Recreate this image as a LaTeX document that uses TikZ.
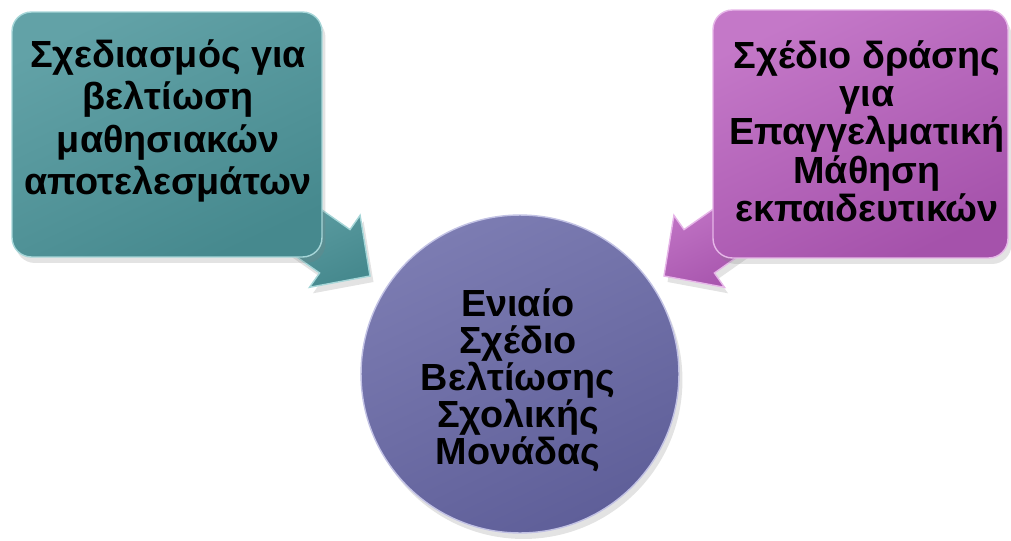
\documentclass[tikz,border=0pt]{standalone}
\usepackage{fontspec}
\setmainfont{Liberation Sans}
\usetikzlibrary{positioning, shadows}
\definecolor{tealtop}{HTML}{62A2A7}
\definecolor{tealbot}{HTML}{46898E}
\definecolor{tealrim}{HTML}{A6D6D8}
\definecolor{plumtop}{HTML}{C478C8}
\definecolor{plumbot}{HTML}{A552AB}
\definecolor{plumrim}{HTML}{E6B6E8}
\definecolor{slatetop}{HTML}{7C7CB2}
\definecolor{slatebot}{HTML}{5F5F99}
\definecolor{slaterim}{HTML}{C2C2E4}
\tikzset{
  softshadow/.style = {drop shadow={opacity=0.22, shadow xshift=0.7mm, shadow yshift=-1.2mm}},
  tealfill/.style   = {draw=tealrim, line width=0.8pt, top color=tealtop,
                       bottom color=tealbot, shading angle=25, softshadow},
  plumfill/.style   = {draw=plumrim, line width=0.8pt, top color=plumtop,
                       bottom color=plumbot, shading angle=25, softshadow},
  tealbox/.style    = {rectangle, rounded corners=11pt, tealfill,
                       minimum width=6.2cm, minimum height=4.9cm},
  plumbox/.style    = {rectangle, rounded corners=11pt, plumfill,
                       minimum width=5.9cm, minimum height=4.96cm},
  hub/.style        = {circle, draw=slaterim, line width=0.8pt, top color=slatetop,
                       bottom color=slatebot, shading angle=25, softshadow,
                       minimum size=6.36cm},
  boxtext/.style    = {font=\bfseries\fontsize{21.5}{24.2}\selectfont, align=center, text=black},
}

\begin{document}
\begin{tikzpicture}[x=0.02cm, y=-0.02cm]
  \useasboundingbox (0,0) rectangle (1011,541);

  % ----- block arrows -----
  \coordinate (learntip) at (370,276);
  \coordinate (teachtip) at (664,276);
  \path[tealfill] (learntip) -- (360.1,215.3) -- (350.0,229.6) -- (284.5,183.7)
     -- (254.1,227.1) -- (319.6,273.0) -- (309.5,287.3) -- cycle;
  \path[plumfill] (teachtip) -- (673.9,215.3) -- (684.0,229.6) -- (749.5,183.7)
     -- (779.9,227.1) -- (714.4,273.0) -- (724.5,287.3) -- cycle;

  % ----- boxes -----
  \node[tealbox] (learn) at (167,134.5) {};
  \node[boxtext] (learntext) at (168,121)
     {Σχεδιασμός για\\ βελτίωση\\ μαθησιακών\\ αποτελεσμάτων};

  \node[plumbox] (teach) at (860.5,134) {};
  \node[boxtext, font=\bfseries\fontsize{21.5}{21.8}\selectfont] (teachtext) at (867,131)
     {Σχέδιο δράσης\\ για\\ Επαγγελματική\\ Μάθηση\\ εκπαιδευτικών};

  % ----- centre -----
  \node[hub] (plan) at (520,374) {};
  \node[boxtext, font=\bfseries\fontsize{21.5}{21}\selectfont] (plantext) at (518,380)
     {Ενιαίο\\ Σχέδιο\\ Βελτίωσης\\ Σχολικής\\ Μονάδας};

\end{tikzpicture}
\end{document}
